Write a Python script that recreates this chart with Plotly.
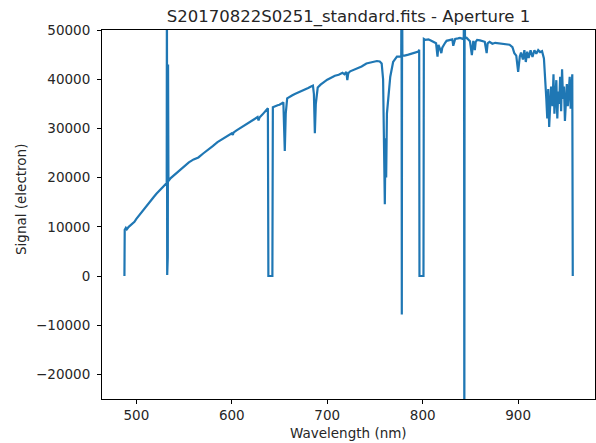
import plotly.graph_objects as go

title_text = "S20170822S0251_standard.fits - Aperture 1"
x_title = "Wavelength (nm)"
y_title = "Signal (electron)"

wavelength = [
    487.5, 487.8, 489, 490, 492, 494, 496, 498, 500, 502, 504, 507, 510, 512, 515, 518, 521, 524, 527, 530,
    531.8, 532.0, 532.3, 532.6, 532.9, 533.2, 533.6, 536, 540, 545, 550, 555, 560, 565, 570, 575, 580, 585,
    590, 595, 600, 601, 602, 605, 610, 615, 619, 622, 625, 627, 628, 629, 632, 635, 637, 637.8, 638.3, 642.5, 643,
    645, 648, 650, 652, 654, 655.5, 656.5, 658, 660, 663, 666, 670, 673, 676, 680, 683, 685, 686, 687, 688,
    690, 693, 696, 700, 704, 708, 712, 716, 718, 720, 721, 722, 724, 728, 732, 736, 741, 744, 748, 752, 755, 757,
    758.5, 759.5, 760.3, 761, 761.7, 762.5, 764, 766, 769, 771, 773, 776, 777.5, 777.8, 778.1, 778.4, 778.7,
    781, 785, 789, 793, 795.5, 796.3, 796.6, 800.8, 801.2, 803, 806, 809, 812, 814, 815.5, 816.5, 818, 819.5,
    820.5, 822, 823.5, 825, 828, 831, 832, 834, 837, 839, 842, 843.0, 843.3, 843.6, 843.9, 844.3, 846, 848, 849.5, 850,
    851.5, 853, 854.6, 855.5, 857, 860, 863, 865, 867, 868, 870, 873, 876, 880, 884, 888, 891, 894, 896,
    898, 899, 900, 901.7, 903, 905, 906.5, 908, 909.5, 911, 913, 915, 917, 919, 921, 923, 925, 927, 928.5,
    929.5, 930.5, 931.5, 932.5, 933.5, 934.5, 936, 937, 938, 939, 940, 941, 942, 943, 944, 945, 946, 947,
    948, 949, 950, 951, 952, 953, 954, 955, 956, 956.7, 957.2,
]

signal = [
    0, 9400, 9800, 9500, 10000, 10300, 10700, 11000, 11600, 12100, 12700, 13300, 14100, 14500, 15300, 16000, 16700, 17300, 17900, 18500,
    18900, 62000, 200, 60000, 3800, 43000, 19300, 19900, 20600, 21500, 22300, 23100, 23700, 24100, 24900, 25600, 26400, 27200,
    27800, 28400, 29000, 28700, 29200, 29600, 30200, 30800, 31300, 31800, 32100, 32300, 31600, 32200, 32800, 33400, 34000, 34100, 0, 0, 34300,
    34500, 34700, 34800, 35000, 35300, 25400, 33000, 36100, 36400, 36700, 37000, 37300, 37600, 37900, 38200, 38500, 38700, 37000, 29000, 35000,
    38300, 38900, 39400, 39900, 40300, 40700, 40900, 41300, 41000, 41500, 39800, 41200, 41600, 41900, 42200, 42600, 43200, 43300, 43500, 43700, 43600, 43200,
    40000, 30000, 14600, 28000, 20000, 33000, 37000, 40500, 43500, 44000, 44600, 44600, 44700, 62000, -7800, 60000, 44800,
    44800, 45000, 45200, 45400, 45600, 46000, 0, 0, 48200, 48000, 48100, 47800, 47500, 47300, 44600, 47000, 46200, 45300,
    46400, 47000, 47400, 47800, 48000, 48100, 46800, 48200, 48300, 48400, 48200, 48500, 62000, -40000, 60000, 48300, 48400, 48000, 47700, 47000,
    44900, 47800, 45900, 47600, 48000, 47900, 47700, 47600, 45300, 47300, 47600, 47200, 47400, 47300, 47100, 47000, 47000, 46500, 45300,
    44800, 43000, 41500, 44600, 45400, 44000, 45900, 43500, 45600, 44300, 45900, 44500, 45900, 45200, 45900, 45500, 45700, 44200, 40000,
    36000, 32000, 38000, 30300, 34000, 38500, 34500, 41000, 33000, 36500, 39800, 32000, 37500, 35000, 40500, 33500, 42000, 36000,
    38500, 31500, 36500, 39000, 34500, 37000, 40500, 34000, 39500, 41000, 0,
]

x_ticks = [500, 600, 700, 800, 900]
x_tick_labels = ["500", "600", "700", "800", "900"]
y_ticks = [-20000, -10000, 0, 10000, 20000, 30000, 40000, 50000]
y_tick_labels = ["\u221220000", "\u221210000", "0", "10000", "20000", "30000", "40000", "50000"]

x_range = [464.0, 980.5]
y_range = [-25000, 50000]

W, H = 596, 443
L, R, T, B = 102, 595, 30, 399

fig = go.Figure()
fig.add_trace(go.Scatter(
    x=wavelength, y=signal, mode="lines",
    line=dict(color="#1f77b4", width=2.2),
    showlegend=False,
))

font_family = "DejaVu Sans"
text_color = "#262626"
axis_common = dict(
    showgrid=False, zeroline=False, showline=True, linecolor="black", linewidth=1,
    mirror=True, ticks="outside", ticklen=4, tickwidth=1, tickcolor="black",
    tickfont=dict(family=font_family, size=13.5, color=text_color),
    automargin=False,
)

fig.update_layout(
    width=W, height=H,
    margin=dict(l=L, r=W - R, t=T, b=H - B, autoexpand=False),
    paper_bgcolor="white", plot_bgcolor="white",
    title=dict(text=title_text, x=(L + R) / 2 / W, xanchor="center",
               y=1 - 16 / H, yanchor="middle", automargin=False,
               font=dict(family=font_family, size=16.5, color=text_color)),
    xaxis=dict(range=x_range, tickvals=x_ticks, ticktext=x_tick_labels, **axis_common),
    yaxis=dict(range=y_range, tickvals=y_ticks, ticktext=y_tick_labels,
               ticklabelstandoff=4, **axis_common),
    annotations=[
        dict(text=x_title, xref="paper", yref="paper",
             x=0.5, y=-(433 - B) / (B - T), xanchor="center", yanchor="middle",
             showarrow=False, font=dict(family=font_family, size=13.5, color=text_color)),
        dict(text=y_title, xref="paper", yref="paper",
             x=-(L - 21) / (R - L), y=(B - 200) / (B - T), xanchor="center", yanchor="middle",
             textangle=-90, showarrow=False,
             font=dict(family=font_family, size=13.5, color=text_color)),
    ],
)

fig.write_html(
    "out.html",
    config={"displayModeBar": False},
    post_script="document.body.style.margin='0';document.body.style.overflow='hidden';",
)
